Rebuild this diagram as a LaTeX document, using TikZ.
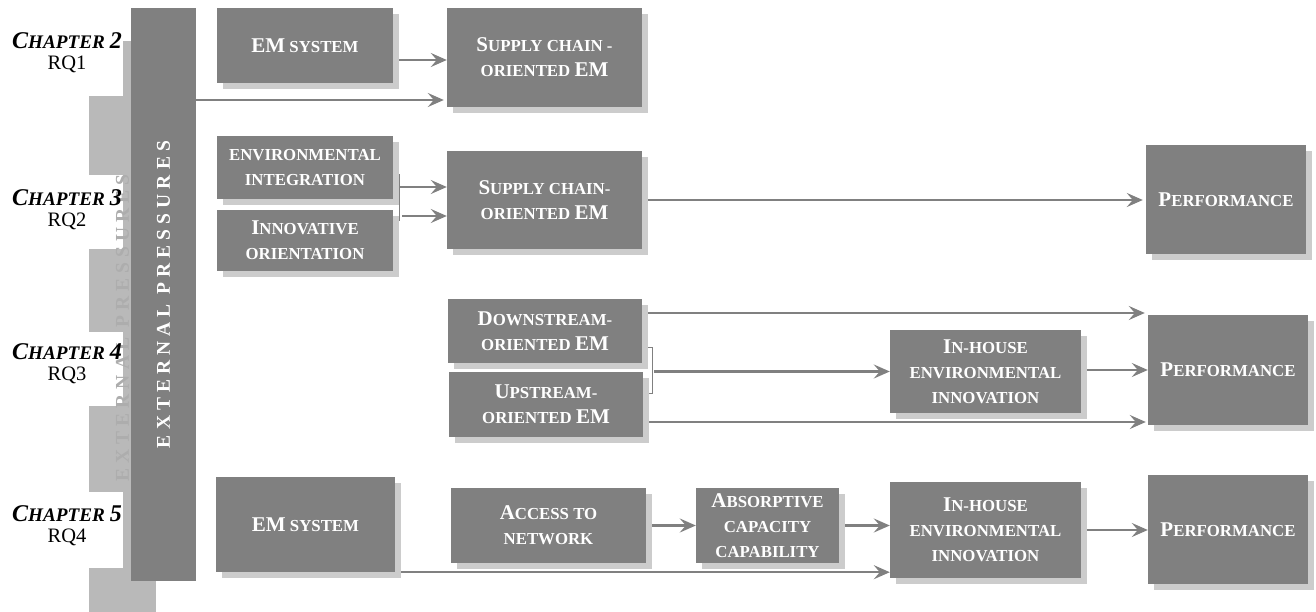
\documentclass[tikz,border=0pt]{standalone}
\usepackage{fontspec}
\setmainfont{Liberation Serif}
\usetikzlibrary{arrows.meta,shadows}

\definecolor{boxgray}{HTML}{808080}
\definecolor{shadegray}{HTML}{CCCCCC}
\definecolor{barshade}{HTML}{B9B9B9}
\definecolor{barshadetext}{HTML}{ADADAD}

% large initial capitals inside the small-caps box texts
\newcommand\capl[1]{{\fontsize{21}{25}\selectfont #1}}
% "Chapter n" heading in bold italic small caps
\newcommand\chap[1]{{\bfseries\itshape{\fontsize{24}{21}\selectfont C}{\fontsize{19.2}{21}\selectfont HAPTER }{\fontsize{24}{21}\selectfont #1}}}

\pgfdeclarelayer{lines}
\pgfsetlayers{lines,main}

\tikzset{
  block/.style={fill=boxgray, text=white, align=center, inner sep=0pt,
    font=\bfseries\fontsize{16.8}{25}\selectfont,
    general shadow={fill=shadegray, shadow xshift=5.5pt, shadow yshift=-6pt}},
  sz/.style 2 args={minimum width=#1pt, minimum height=#2pt},
  lbl/.style={align=center, inner sep=0pt, font=\fontsize{20.5}{21}\selectfont},
  arr/.style={draw=boxgray, line width=2.2pt, -{Stealth[length=16pt,width=14pt,inset=6pt]}},
  brk/.style={draw=boxgray, line width=1pt},
  vtext/.style={rotate=90, inner sep=0pt,
    font=\bfseries\fontsize{19.5}{20}\selectfont\addfontfeatures{LetterSpace=26}},
}

\begin{document}
\begin{tikzpicture}[x=1pt,y=-1pt]
\useasboundingbox (0,0) rectangle (1316,612);

% offset shade of the side bar, partly hidden by the chapter labels
\fill[barshade] (89,41) rectangle (156,612);
\fill[white] (0,8) rectangle (123,96);
\fill[white] (0,175) rectangle (123,249);
\fill[white] (0,332) rectangle (123,406);
\fill[white] (0,492) rectangle (123,568);
\node[vtext, text=barshadetext] (barshadow) at (122.5,328) {EXTERNAL PRESSURES};

% side bar
\node[fill=boxgray, inner sep=0pt, sz={65}{573}] (bar) at (163.5,294.5) {};
\node[vtext, text=white] (bartext) at (bar.center) {EXTERNAL PRESSURES};

% chapter labels
\node[lbl] (ch2) at (67,53) {\chap{2}\\RQ1};
\node[lbl] (ch3) at (67,210) {\chap{3}\\RQ2};
\node[lbl] (ch4) at (67,364) {\chap{4}\\RQ3};
\node[lbl] (ch5) at (67,526) {\chap{5}\\RQ4};

% row 1
\node[block, sz={176}{75}] (A1) at (305,45.5) {\capl{EM} SYSTEM};
\node[block, sz={195}{99}] (B1) at (544.5,57.5) {\capl{S}UPPLY CHAIN -\\ORIENTED \capl{EM}};

% row 2
\node[block, sz={176}{63}] (A2a) at (305,167.5) {ENVIRONMENTAL\\INTEGRATION};
\node[block, sz={176}{61}] (A2b) at (305,240.5) {\capl{I}NNOVATIVE\\ORIENTATION};
\node[block, sz={195}{98}] (B2) at (544.5,200) {\capl{S}UPPLY CHAIN-\\ORIENTED \capl{EM}};
\node[block, sz={160}{109}] (P2) at (1226,199.5) {\capl{P}ERFORMANCE};

% row 3
\node[block, sz={194}{64}] (A3a) at (545,331) {\capl{D}OWNSTREAM-\\ORIENTED \capl{EM}};
\node[block, sz={194}{65}] (A3b) at (546,404.5) {\capl{U}PSTREAM-\\ORIENTED \capl{EM}};
\node[block, sz={191}{83}] (I3) at (985.5,371.5) {\capl{I}N-HOUSE\\ENVIRONMENTAL\\INNOVATION};
\node[block, sz={160}{110}] (P3) at (1228,370) {\capl{P}ERFORMANCE};

% row 4
\node[block, sz={179}{95}] (A4) at (305.5,524.5) {\capl{EM} SYSTEM};
\node[block, sz={195}{75}] (N4) at (548.5,525.5) {\capl{A}CCESS TO\\NETWORK};
\node[block, sz={143}{75}] (C4) at (767.5,525.5) {\capl{A}BSORPTIVE\\CAPACITY\\CAPABILITY};
\node[block, sz={191}{96}] (I4) at (985.5,530) {\capl{I}N-HOUSE\\ENVIRONMENTAL\\INNOVATION};
\node[block, sz={160}{109}] (P4) at (1228,529.5) {\capl{P}ERFORMANCE};

% bracket points
\coordinate (br2) at (399,0);
\coordinate (br3) at (652,0);

\begin{pgfonlayer}{lines}
  % row 1
  \draw[arr] (A1.east |- 0,60) -- (B1.west |- 0,60);
  \draw[arr] (bar.east |- 0,100) -- ([xshift=-3pt]B1.west |- 0,100);
  % row 2
  \draw[brk] (A2a.east |- 0,175) -| (br2 |- 0,221) -- (A2b.east |- 0,221);
  \draw[arr] (br2 |- 0,187) -- (B2.west |- 0,187);
  \draw[arr] ([xshift=3pt]br2 |- 0,216) -- (B2.west |- 0,216);
  \draw[arr] (B2.east) -- ([xshift=-3pt]B2.east -| P2.west);
  % row 3
  \draw[arr] (A3a.east |- 0,313) -- ([xshift=-3pt]P3.west |- 0,313);
  \draw[brk] (A3a.east |- 0,347) -| (br3 |- 0,393) -- (A3b.east |- 0,393);
  \draw[arr] ([xshift=2pt]br3 |- I3.west) -- (I3.west);
  \draw[arr] (I3.east |- P3.west) -- (P3.west);
  \draw[arr] (A3b.east |- 0,422) -- ([xshift=-2pt]P3.west |- 0,422);
  % row 4
  \draw[arr] (N4.east) -- (N4.east -| C4.west);
  \draw[arr] (C4.east) -- (C4.east -| I4.west);
  \draw[arr] (A4.south east) -- (A4.south east -| I4.west);
  \draw[arr] (I4.east) -- (I4.east -| P4.west);
\end{pgfonlayer}
\end{tikzpicture}
\end{document}
